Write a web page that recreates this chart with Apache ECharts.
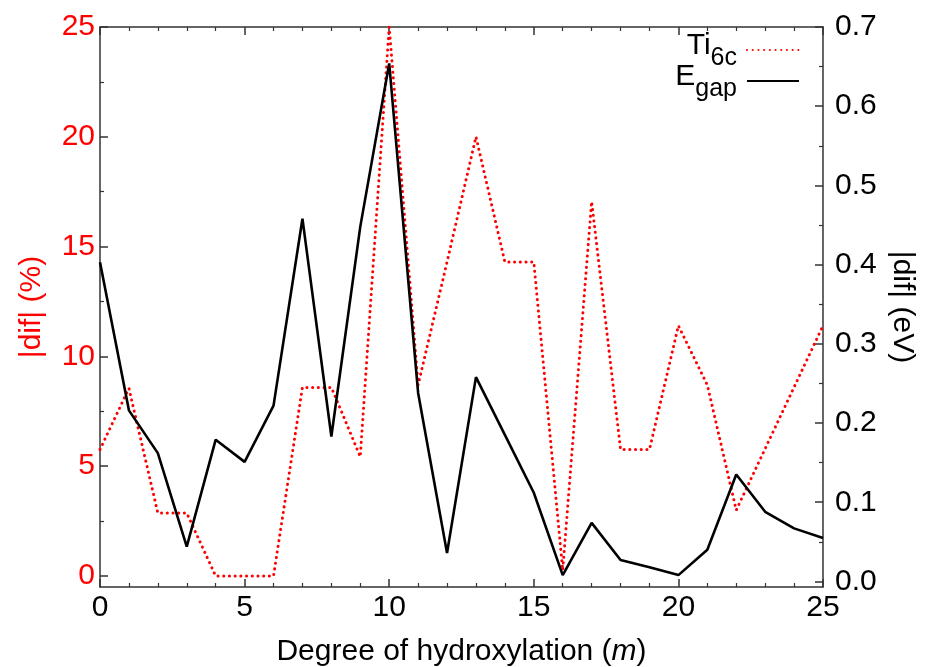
<!DOCTYPE html>
<html>
<head>
<meta charset="utf-8">
<script src="https://cdn.jsdelivr.net/npm/echarts@6/dist/echarts.min.js"></script>
<style>
  html, body { margin: 0; padding: 0; background: #fff; }
  #chart { width: 927px; height: 667px; }
</style>
</head>
<body>
<div id="chart"></div>
<script>
// degree of hydroxylation m
var mValues = [0, 1, 2, 3, 4, 5, 6, 7, 8, 9, 10, 11, 12, 13, 14, 15, 16, 17, 18, 19, 20, 21, 22, 23, 24, 25];
// |dif| (%) for Ti6c
var ti6c = [5.76, 8.55, 2.87, 2.87, 0, 0, 0, 8.59, 8.59, 5.43, 25, 8.7, 14.3, 20, 14.3, 14.3, 0.26, 17.05, 5.76, 5.76, 11.4, 8.7, 3.0, 5.8, 8.6, 11.4];
// |dif| (eV) for Egap
var egap = [0.403, 0.216, 0.162, 0.044, 0.179, 0.151, 0.222, 0.458, 0.183, 0.448, 0.654, 0.238, 0.036, 0.258, 0.185, 0.112, 0.008, 0.074, 0.027, 0.018, 0.008, 0.040, 0.135, 0.088, 0.067, 0.055];

var leftTicks = [0, 5, 10, 15, 20, 25];
var leftMinor = [2.5, 7.5, 12.5, 17.5, 22.5];
var rightTicks = [0, 0.1, 0.2, 0.3, 0.4, 0.5, 0.6, 0.7];
var rightMinor = [0.05, 0.15, 0.25, 0.35, 0.45, 0.55, 0.65];

function pairs(ys){
    var out = [];
    for(var i = 0; i < mValues.length; i ++){
        out.push([mValues[i], ys[i]]);
    }
    return out;
}

var FONT = 'Liberation Sans';
var frame = { show: true, onZero: false, lineStyle: { color: '#333', width: 1.5 } };
var noLine = { show: false, onZero: false };

var option = {
    backgroundColor: '#fff',
    animation: false,
    textStyle: { fontFamily: FONT },
    grid: { left: 100, right: 104, top: 27, bottom: 80, containLabel: false, outerBoundsMode: 'none' },
    legend: {
        orient: 'vertical',
        right: 122,
        top: 26,
        align: 'right',
        itemWidth: 52,
        itemHeight: 14,
        itemGap: -9,
        selectedMode: false,
        itemStyle: { opacity: 0 },
        textStyle: {
            fontFamily: FONT,
            color: '#000',
            rich: {
                m: { fontSize: 30, color: '#000', fontFamily: FONT, verticalAlign: 'bottom', padding: [2, 0, 10, 0] },
                s: { fontSize: 25, color: '#000', fontFamily: FONT, verticalAlign: 'bottom', padding: [0, 5, 0, 0] }
            }
        },
        formatter: function (name) {
            return name === 'Ti6c' ? '{m|Ti}{s|6c}' : '{m|E}{s|gap}';
        },
        data: ['Ti6c', 'Egap']
    },
    xAxis: [{
        type: 'value',
        position: 'bottom',
        min: 0, max: 25, interval: 5,
        axisLine: frame,
        axisTick: { inside: true, length: 8, lineStyle: { color: '#333', width: 1.5 } },
        minorTick: { show: true, splitNumber: 5, length: 4, lineStyle: { color: '#333', width: 1.2 } },
        splitLine: { show: false },
        axisLabel: { color: '#000', fontSize: 30, margin: 6, fontFamily: FONT },
        name: 'Degree of hydroxylation ({i|m})',
        nameLocation: 'middle',
        nameGap: 50,
        nameTextStyle: {
            color: '#000', fontSize: 30, fontFamily: FONT,
            rich: { i: { fontStyle: 'italic', fontSize: 30, color: '#000', fontFamily: FONT } }
        }
    }, {
        type: 'value',
        position: 'top',
        min: 0, max: 25, interval: 5,
        axisLine: frame,
        axisTick: { inside: true, length: 8, lineStyle: { color: '#333', width: 1.5 } },
        minorTick: { show: true, splitNumber: 5, length: 4, lineStyle: { color: '#333', width: 1.2 } },
        splitLine: { show: false },
        axisLabel: { show: false }
    }],
    yAxis: [{
        type: 'value',
        position: 'left',
        min: -0.5, max: 25,
        axisLine: frame,
        axisTick: { inside: true, length: 8, customValues: leftTicks, lineStyle: { color: '#333', width: 1.5 } },
        splitLine: { show: false },
        axisLabel: { color: '#ff0000', fontSize: 30, margin: 5, customValues: leftTicks, fontFamily: FONT },
        name: '|dif| (%)',
        nameLocation: 'middle',
        nameGap: 53,
        nameTextStyle: { color: '#ff0000', fontSize: 30, fontFamily: FONT }
    }, {
        type: 'value',
        position: 'right',
        min: -0.007, max: 0.7,
        axisLine: frame,
        axisTick: { inside: true, length: 8, customValues: rightTicks, lineStyle: { color: '#333', width: 1.5 } },
        splitLine: { show: false },
        axisLabel: {
            color: '#000', fontSize: 30, margin: 12, customValues: rightTicks, fontFamily: FONT,
            formatter: function (v) { return v.toFixed(1); }
        },
        name: '|dif| (eV)',
        nameLocation: 'middle',
        nameRotate: -90,
        nameGap: 63,
        nameTextStyle: { color: '#000', fontSize: 30, fontFamily: FONT }
    }, {
        type: 'value',
        position: 'left',
        min: -0.5, max: 25,
        axisLine: noLine,
        axisTick: { inside: true, length: 4, customValues: leftMinor, lineStyle: { color: '#333', width: 1.2 } },
        splitLine: { show: false },
        axisLabel: { show: false }
    }, {
        type: 'value',
        position: 'right',
        min: -0.007, max: 0.7,
        axisLine: noLine,
        axisTick: { inside: true, length: 4, customValues: rightMinor, lineStyle: { color: '#333', width: 1.2 } },
        splitLine: { show: false },
        axisLabel: { show: false }
    }],
    series: [{
        name: 'Ti6c',
        type: 'line',
        xAxisIndex: 0,
        yAxisIndex: 0,
        data: pairs(ti6c),
        symbol: 'none',
        lineStyle: { color: '#ff0000', width: 3, type: [0.1, 5.6], cap: 'round' },
        itemStyle: { color: '#ff0000' }
    }, {
        name: 'Egap',
        type: 'line',
        xAxisIndex: 0,
        yAxisIndex: 1,
        data: pairs(egap),
        symbol: 'none',
        lineStyle: { color: '#000', width: 2.6 },
        itemStyle: { color: '#000' }
    }]
};

var myChart = echarts.init(document.getElementById('chart'));
myChart.setOption(option);
</script>
</body>
</html>
